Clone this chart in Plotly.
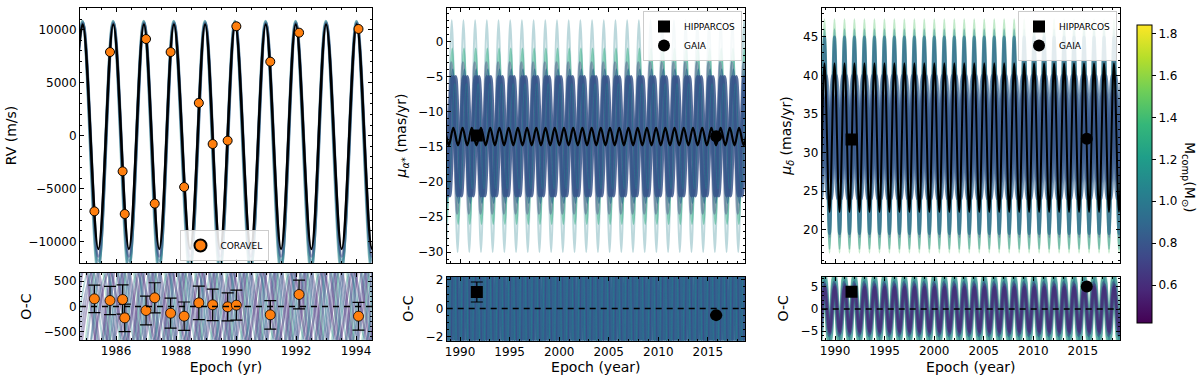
import plotly.graph_objects as go
from plotly.subplots import make_subplots
from plotly.colors import sample_colorscale

W, H = 1200, 381
MMIN, MMAX = 0.42, 1.84   # colour range of companion mass

# ---------------- CORAVEL radial velocities ----------------
rv_epoch = [1985.28, 1985.80, 1986.22, 1986.29, 1987.00, 1987.29, 1987.82, 1988.27,
            1988.76, 1989.22, 1989.72, 1990.01, 1991.14, 1992.10, 1994.08]
rv_value = [-7150, 7900, -3370, -7400, 9130, -6420, 7900, -4850,
            3090, -790, -470, 10330, 6990, 9730, 10080]
rv_oc = [151, 118, 138, -224, -79, 171, -132, -191, 72, 33, -7, 26, -164, 237, -191]
rv_err = [270, 280, 290, 270, 283, 297, 296, 280, 330, 310, 276, 296, 280, 283, 273]

# best-fit RV curve: epochs of maxima / minima
rv_peak_epoch = [1984.89, 1985.91, 1986.93, 1987.93, 1988.97, 1989.97, 1990.99,
                 1991.99, 1993.00, 1994.02, 1995.04]
rv_trough_epoch = [1984.38, 1985.41, 1986.43, 1987.44, 1988.47, 1989.47, 1990.49,
                   1991.50, 1992.51, 1993.52, 1994.53]
rv_peak, rv_trough = 10500, -10700

# posterior draws (mass, max, min, phase shift)
rv_draw_mass = [0.8, 0.95, 1.1, 0.7]
rv_draw_top = [10750, 10650, 10800, 10600]
rv_draw_bottom = [-12400, -11800, -12800, -11400]
rv_draw_shift = [0.0, 0.01, -0.01, 0.0]

rv_oc_mass = [0.55, 0.6, 0.65, 0.75, 0.85, 0.95, 1.05, 1.3, 0.58, 0.9, 0.7, 1.0]
rv_oc_amp = [900, 750, 1000, 700, 850, 650, 800, 950, 700, 1100, 780, 880]
rv_oc_shift = [0.02, 0.47, 0.15, 0.33, 0.62, 0.80, 0.25, 0.55, 0.90, 0.72, 0.40, 0.08]

# ---------------- proper motion in RA ----------------
mua_hip_epoch, mua_hip, mua_hip_oc, mua_hip_err = [1991.69], [-13.4], [1.15], [0.7]
mua_gaia_epoch, mua_gaia, mua_gaia_oc, mua_gaia_err = [2015.84], [-13.5], [-0.47], [0.05]

mua_peak_epoch = [1988.39, 1989.32, 1990.25, 1991.18, 1992.11, 1993.04, 1993.97, 1994.90,
                  1995.83, 1996.76, 1997.69, 1998.62, 1999.55, 2000.48, 2001.41, 2002.34,
                  2003.27, 2004.20, 2005.13, 2006.06, 2006.99, 2007.92, 2008.85, 2009.78,
                  2010.71, 2011.64, 2012.57, 2013.50, 2014.43, 2015.36, 2016.29, 2017.22,
                  2018.15, 2019.08]
mua_trough_epoch = [1987.92, 1988.86, 1989.79, 1990.72, 1991.65, 1992.58, 1993.51, 1994.44,
                    1995.37, 1996.30, 1997.23, 1998.16, 1999.09, 2000.02, 2000.95, 2001.88,
                    2002.81, 2003.74, 2004.67, 2005.60, 2006.53, 2007.46, 2008.39, 2009.32,
                    2010.25, 2011.18, 2012.11, 2013.04, 2013.97, 2014.90, 2015.83, 2016.76,
                    2017.69, 2018.62, 2019.55]
mua_peak, mua_trough = -12.3, -14.8

mua_draw_peak_epoch = [1987.98, 1989.16, 1990.34, 1991.52, 1992.70, 1993.88, 1995.06,
                       1996.24, 1997.42, 1998.60, 1999.78, 2000.96, 2002.14, 2003.32,
                       2004.50, 2005.68, 2006.86, 2008.04, 2009.22, 2010.40, 2011.58,
                       2012.76, 2013.94, 2015.12, 2016.30, 2017.48, 2018.66, 2019.84]
mua_draw_trough_epoch = [1987.39, 1988.57, 1989.75, 1990.93, 1992.11, 1993.29, 1994.47,
                         1995.65, 1996.83, 1998.01, 1999.19, 2000.37, 2001.55, 2002.73,
                         2003.91, 2005.09, 2006.27, 2007.45, 2008.63, 2009.81, 2010.99,
                         2012.17, 2013.35, 2014.53, 2015.71, 2016.89, 2018.07, 2019.25]
mua_draw_mass = [1.05, 1.3, 0.62, 0.95, 0.8, 0.8, 0.8, 1.0]
mua_draw_top = [3.0, -1.0, -3.0, -4.0, -5.0, -5.0, -5.0, -6.0]
mua_draw_bottom = [-30.0, -26.0, -24.5, -23.0, -22.0, -22.0, -22.0, -21.0]
mua_draw_shift = [0.0, 0.05, -0.05, 0.1, 0.0, 0.2, 0.4, 0.3]

mua_oc_mass = [0.88, 0.88, 0.88, 1.05, 0.7]
mua_oc_amp = [12, 12, 12, 12, 12]
mua_oc_shift = [0.0, 0.2, 0.4, 0.1, 0.3]

# ---------------- proper motion in Dec ----------------
mud_hip_epoch, mud_hip, mud_hip_oc = [1991.66], [31.7], [3.9]
mud_gaia_epoch, mud_gaia, mud_gaia_oc = [2015.4], [31.8], [5.1]

mud_peak_epoch = [1987.92, 1988.93, 1989.94, 1990.95, 1991.95, 1992.96, 1993.97, 1994.98,
                  1995.98, 1996.99, 1998.00, 1999.00, 2000.01, 2001.02, 2002.03, 2003.03,
                  2004.04, 2005.05, 2006.06, 2007.06, 2008.07, 2009.08, 2010.08, 2011.09,
                  2012.10, 2013.11, 2014.11, 2015.12, 2016.13, 2017.14, 2018.14, 2019.15]
mud_trough_epoch = [1987.42, 1988.43, 1989.44, 1990.45, 1991.45, 1992.46, 1993.47, 1994.48,
                    1995.48, 1996.49, 1997.50, 1998.50, 1999.51, 2000.52, 2001.53, 2002.53,
                    2003.54, 2004.55, 2005.56, 2006.56, 2007.57, 2008.58, 2009.58, 2010.59,
                    2011.60, 2012.61, 2013.61, 2014.62, 2015.63, 2016.64, 2017.64, 2018.65,
                    2019.65]
mud_peak, mud_trough = 41.6, 22.3

mud_draw_mass = [1.45, 1.1, 0.6, 0.95, 0.86, 0.86, 0.8, 0.8]
mud_draw_top = [47.3, 46.0, 44.5, 45.0, 40.0, 40.0, 38.0, 38.0]
mud_draw_bottom = [17.0, 17.5, 19.0, 19.5, 24.0, 24.0, 26.0, 26.0]
mud_draw_shift = [0.0, 0.0, 0.02, 0.0, 0.25, -0.25, 0.2, -0.2]

mud_oc_mass = [1.4, 1.3, 1.05, 1.0, 0.7, 0.62, 0.55]
mud_oc_amp = [7.8, 7.6, 7.2, 7.0, 6.0, 5.5, 5.0]
mud_oc_shift = [-0.14, 0.14, -0.10, 0.10, -0.06, 0.06, 0.0]


def mcol(m):
    return sample_colorscale("Viridis", [(m - MMIN) / (MMAX - MMIN)])[0]


def zigzag(peaks, troughs, top, bottom, shift=0.0):
    pts = sorted([(t + shift, top) for t in peaks] + [(t + shift, bottom) for t in troughs])
    return [p[0] for p in pts], [p[1] for p in pts]


fig = make_subplots(rows=2, cols=3)


def add_draws(row, col, peaks, troughs, masses, tops, bottoms, shifts, widths, opacities):
    for m, t, b, s, w, o in zip(masses, tops, bottoms, shifts, widths, opacities):
        x, y = zigzag(peaks, troughs, t, b, s)
        fig.add_trace(go.Scatter(x=x, y=y, mode="lines", opacity=o,
                                 line=dict(color=mcol(m), width=w, shape="spline"),
                                 showlegend=False, hoverinfo="skip"), row=row, col=col)


def add_best(row, col, peaks, troughs, top, bottom, width):
    x, y = zigzag(peaks, troughs, top, bottom)
    fig.add_trace(go.Scatter(x=x, y=y, mode="lines",
                             line=dict(color="black", width=width, shape="spline"),
                             showlegend=False, hoverinfo="skip"), row=row, col=col)


# ---- RV ----
add_draws(1, 1, rv_peak_epoch, rv_trough_epoch, rv_draw_mass, rv_draw_top, rv_draw_bottom,
          rv_draw_shift, [3] * 4, [0.5] * 4)
add_best(1, 1, rv_peak_epoch, rv_trough_epoch, rv_peak, rv_trough, 2.5)
fig.add_trace(go.Scatter(x=rv_epoch, y=rv_value, mode="markers", name="CORAVEL",
                         error_y=dict(type="data", array=rv_err, color="black", thickness=1.2, width=3),
                         marker=dict(color="#ff7f0e", size=9, line=dict(color="black", width=1)),
                         legend="legend"), row=1, col=1)

add_draws(2, 1, rv_peak_epoch, rv_trough_epoch, rv_oc_mass, rv_oc_amp, [-a for a in rv_oc_amp],
          rv_oc_shift, [2.5, 2, 2.5, 2, 2, 2, 2, 1.5, 2.5, 2, 2, 2],
          [0.45, 0.4, 0.45, 0.4, 0.4, 0.35, 0.35, 0.3, 0.45, 0.4, 0.4, 0.35])
fig.add_trace(go.Scatter(x=rv_epoch, y=rv_oc, mode="markers", showlegend=False,
                         error_y=dict(type="data", array=rv_err, color="black", thickness=1.2, width=6),
                         marker=dict(color="#ff7f0e", size=10, line=dict(color="black", width=0.8))),
              row=2, col=1)

# ---- mu alpha ----
add_draws(1, 2, mua_draw_peak_epoch, mua_draw_trough_epoch, mua_draw_mass, mua_draw_top,
          mua_draw_bottom, mua_draw_shift, [2, 2, 2.5, 2, 3, 3, 3, 1],
          [0.3, 0.5, 0.35, 0.7, 0.85, 0.85, 0.85, 0.6])
add_best(1, 2, mua_peak_epoch, mua_trough_epoch, mua_peak, mua_trough, 2.2)
fig.add_trace(go.Scatter(x=mua_hip_epoch, y=mua_hip, mode="markers", name="HIPPARCOS",
                         marker=dict(symbol="square", color="black", size=12), legend="legend2"),
              row=1, col=2)
fig.add_trace(go.Scatter(x=mua_gaia_epoch, y=mua_gaia, mode="markers", name="GAIA",
                         marker=dict(symbol="circle", color="black", size=12), legend="legend2"),
              row=1, col=2)

add_draws(2, 2, mua_draw_peak_epoch, mua_draw_trough_epoch, mua_oc_mass, mua_oc_amp,
          [-a for a in mua_oc_amp], mua_oc_shift, [3, 3, 3, 1, 1], [1, 1, 1, 0.6, 0.6])
fig.add_trace(go.Scatter(x=mua_hip_epoch, y=mua_hip_oc, mode="markers", showlegend=False,
                         error_y=dict(type="data", array=mua_hip_err, color="black", thickness=1.2, width=6),
                         marker=dict(symbol="square", color="black", size=12)), row=2, col=2)
fig.add_trace(go.Scatter(x=mua_gaia_epoch, y=mua_gaia_oc, mode="markers", showlegend=False,
                         error_y=dict(type="data", array=mua_gaia_err, color="black", thickness=1.2, width=6),
                         marker=dict(symbol="circle", color="black", size=12)), row=2, col=2)

# ---- mu delta ----
add_draws(1, 3, mud_peak_epoch, mud_trough_epoch, mud_draw_mass, mud_draw_top, mud_draw_bottom,
          mud_draw_shift, [2, 2, 2, 3, 2.5, 2.5, 2.5, 2.5], [0.35, 0.45, 0.3, 0.7, 0.7, 0.7, 0.75, 0.75])
add_best(1, 3, mud_peak_epoch, mud_trough_epoch, mud_peak, mud_trough, 2.0)
fig.add_trace(go.Scatter(x=mud_hip_epoch, y=mud_hip, mode="markers", name="HIPPARCOS",
                         marker=dict(symbol="square", color="black", size=12), legend="legend3"),
              row=1, col=3)
fig.add_trace(go.Scatter(x=mud_gaia_epoch, y=mud_gaia, mode="markers", name="GAIA",
                         marker=dict(symbol="circle", color="black", size=12), legend="legend3"),
              row=1, col=3)

add_draws(2, 3, mud_peak_epoch, mud_trough_epoch, mud_oc_mass, mud_oc_amp,
          [-a for a in mud_oc_amp], mud_oc_shift, [2.5, 2.5, 3, 3, 3, 3, 3],
          [0.5, 0.5, 0.55, 0.55, 0.5, 0.5, 0.55])
fig.add_trace(go.Scatter(x=mud_hip_epoch, y=mud_hip_oc, mode="markers", showlegend=False,
                         marker=dict(symbol="square", color="black", size=12)), row=2, col=3)
fig.add_trace(go.Scatter(x=mud_gaia_epoch, y=mud_gaia_oc, mode="markers", showlegend=False,
                         marker=dict(symbol="circle", color="black", size=12)), row=2, col=3)

# dashed zero lines in the O-C panels
for c in (1, 2, 3):
    fig.add_hline(y=0, line=dict(color="black", width=1.5, dash="6px,5px"), row=2, col=c)

# colour bar (invisible carrier)
fig.add_trace(go.Scatter(x=[rv_epoch[0], rv_epoch[0]], y=[0, 0], mode="markers", showlegend=False,
                         hoverinfo="skip",
                         marker=dict(size=1, opacity=0, color=[MMIN, MMAX], colorscale="Viridis",
                                     cmin=MMIN, cmax=MMAX, showscale=True,
                                     colorbar=dict(x=1137 / W, xanchor="left", xpad=0, ypad=0,
                                                   y=1 - 174 / H, yanchor="middle", len=298 / H,
                                                   lenmode="fraction", thickness=15,
                                                   outlinecolor="black", outlinewidth=1,
                                                   tickvals=[0.6, 0.8, 1.0, 1.2, 1.4, 1.6, 1.8],
                                                   ticktext=["0.6", "0.8", "1.0", "1.2", "1.4", "1.6", "1.8"],
                                                   ticks="outside", ticklen=4, tickcolor="black",
                                                   tickfont=dict(size=12, color="black")))),
              row=1, col=1)

fig.add_annotation(text="M<sub>comp</sub>(M<sub>⊙</sub>)", textangle=90, showarrow=False,
                   xref="paper", yref="paper", x=1189 / W, y=1 - 177 / H,
                   xanchor="center", yanchor="middle", font=dict(size=14, color="black"))

# ---------------- axes ----------------
def px_x(a, b):
    return [a / W, b / W]


def px_y(top, bottom):
    return [1 - bottom / H, 1 - top / H]


axis_base = dict(showline=True, linecolor="black", linewidth=1, mirror="allticks",
                 ticks="inside", ticklen=4, tickwidth=1, tickcolor="black",
                 showgrid=False, zeroline=False, automargin=False,
                 tickfont=dict(size=12, color="black"))

xr_rv = [1984.8, 1994.53]
xr_pm = [1988.65, 2018.75]

layout_axes = {
    "xaxis": dict(axis_base, domain=px_x(80, 372), range=xr_rv, dtick=2, showticklabels=False,
                  minor=dict(ticks="inside", ticklen=2, dtick=0.5, tickcolor="black")),
    "xaxis4": dict(axis_base, domain=px_x(80, 372), range=xr_rv, dtick=2,
                   minor=dict(ticks="inside", ticklen=2, dtick=0.5, tickcolor="black"),
                   title=dict(text="Epoch (yr)", font=dict(size=14), standoff=4)),
    "xaxis2": dict(axis_base, domain=px_x(446.7, 745), range=xr_pm, dtick=5, showticklabels=False,
                   minor=dict(ticks="inside", ticklen=2, dtick=1, tickcolor="black")),
    "xaxis5": dict(axis_base, domain=px_x(446.7, 745), range=xr_pm, dtick=5,
                   minor=dict(ticks="inside", ticklen=2, dtick=1, tickcolor="black"),
                   title=dict(text="Epoch (year)", font=dict(size=14), standoff=4)),
    "xaxis3": dict(axis_base, domain=px_x(821.7, 1120), range=xr_pm, dtick=5, showticklabels=False,
                   minor=dict(ticks="inside", ticklen=2, dtick=1, tickcolor="black")),
    "xaxis6": dict(axis_base, domain=px_x(821.7, 1120), range=xr_pm, dtick=5,
                   minor=dict(ticks="inside", ticklen=2, dtick=1, tickcolor="black"),
                   title=dict(text="Epoch (year)", font=dict(size=14), standoff=4)),
    "yaxis": dict(axis_base, domain=px_y(8, 263), range=[-12030, 12060], dtick=5000, tickformat="d",
                  minor=dict(ticks="inside", ticklen=2, dtick=1000, tickcolor="black"),
                  title=dict(text="RV (m/s)", font=dict(size=14), standoff=8)),
    "yaxis4": dict(axis_base, domain=px_y(273, 340), range=[-660, 660], dtick=500, tickformat="d",
                   minor=dict(ticks="inside", ticklen=2, dtick=100, tickcolor="black"),
                   title=dict(text="O-C", font=dict(size=14), standoff=8)),
    "yaxis2": dict(axis_base, domain=px_y(8, 263), range=[-31.55, 4.75], dtick=5,
                   minor=dict(ticks="inside", ticklen=2, dtick=1, tickcolor="black"),
                   title=dict(text="<i>μ</i><sub><i>α</i>*</sub> (mas/yr)", font=dict(size=14), standoff=8)),
    "yaxis5": dict(axis_base, domain=px_y(276.7, 340.7), range=[-2.26, 2.22], dtick=2,
                   minor=dict(ticks="inside", ticklen=2, dtick=0.5, tickcolor="black"),
                   title=dict(text="O-C", font=dict(size=14), standoff=8)),
    "yaxis3": dict(axis_base, domain=px_y(8, 263), range=[15.67, 48.76], dtick=5,
                   minor=dict(ticks="inside", ticklen=2, dtick=1, tickcolor="black"),
                   title=dict(text="<i>μ</i><sub><i>δ</i></sub> (mas/yr)", font=dict(size=14), standoff=8)),
    "yaxis6": dict(axis_base, domain=px_y(276.7, 340), range=[-7.0, 7.3], dtick=5,
                   minor=dict(ticks="inside", ticklen=2, dtick=1, tickcolor="black"),
                   title=dict(text="O-C", font=dict(size=14), standoff=8)),
}

legend_base = dict(bgcolor="rgba(255,255,255,0.85)", bordercolor="#cccccc", borderwidth=1,
                   font=dict(size=9, color="black"), itemsizing="constant", tracegroupgap=0,
                   itemwidth=30)

fig.update_layout(
    width=W, height=H,
    margin=dict(l=0, r=0, t=0, b=0),
    paper_bgcolor="white", plot_bgcolor="white",
    font=dict(family="DejaVu Sans", color="black"),
    legend=dict(legend_base, x=224 / W, xanchor="center", y=1 - 261 / H, yanchor="bottom"),
    legend2=dict(legend_base, x=742 / W, xanchor="right", y=1 - 11 / H, yanchor="top"),
    legend3=dict(legend_base, x=1117 / W, xanchor="right", y=1 - 11 / H, yanchor="top"),
    **layout_axes,
)

fig.write_html("out.html", config={"displayModeBar": False},
               post_script="document.body.style.margin='0';")
